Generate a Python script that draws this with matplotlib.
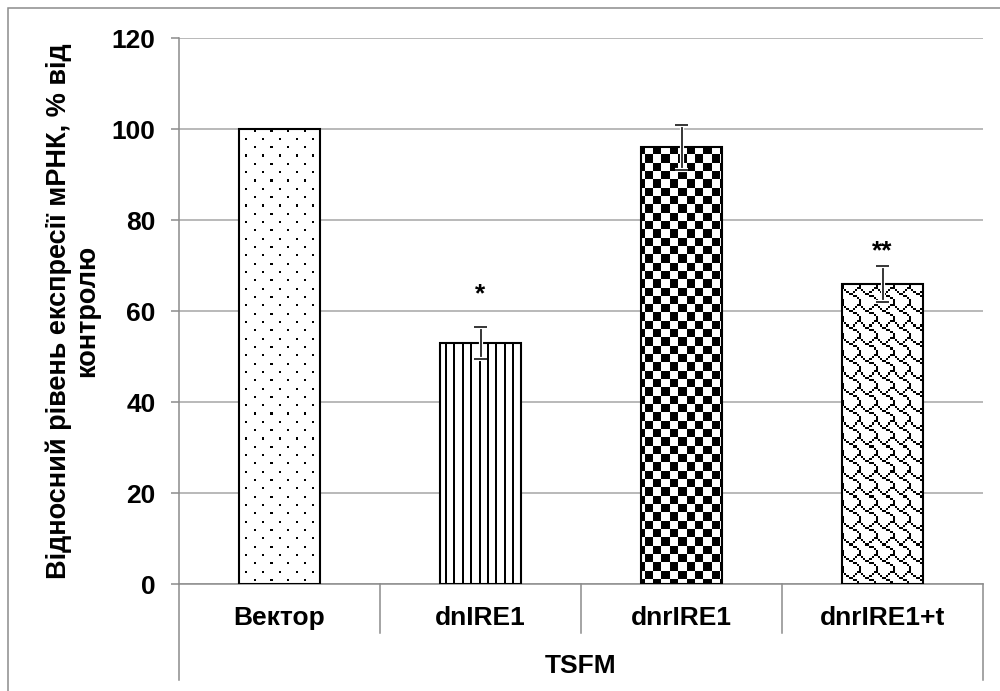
"""Bar chart of relative mRNA expression for TSFM with Excel-style fill patterns."""

import numpy as np
import matplotlib.pyplot as plt
from matplotlib import patheffects
from matplotlib.patches import Rectangle
from matplotlib.transforms import blended_transform_factory

plt.rcParams["font.family"] = ["Liberation Sans", "DejaVu Sans"]
plt.rcParams["font.weight"] = "bold"

GROUPS = ["Вектор", "dnIRE1", "dnrIRE1", "dnrIRE1+t"]
VALUES = [100, 53, 96, 66]
ERRORS = [0, 3.6, 5.0, 4.0]
MARKS = ["", "*", "", "**"]
MARK_Y = [0, 62.1, 0, 71.6]
GENE = "TSFM"
Y_LABEL = "Відносний рівень експресії мРНК, % від\nконтролю"
Y_TICKS = [0, 20, 40, 60, 80, 100, 120]

GRAY = "#8c8c8c"
FONT_SIZE = 19
CELL_PX = 2.08  # size of one pattern cell on screen


def _tile(rows):
    return np.array([[c == "#" for c in r] for r in rows], dtype=float)


# 8x8 fill patterns, one per bar
PATTERNS = [
    _tile(["#.......", "........", "........", "........",
           "....#...", "........", "........", "........"]),
    _tile(["#...#..."] * 8),
    _tile(["####...."] * 4 + ["....####"] * 4),
    _tile(["......##", "#....#..", ".#..#...", "..##....",
           "....##..", "......#.", ".......#", ".......#"]),
]


def _add_texture(ax, bar, tile, ax_w_px, ax_h_px):
    nx = int(np.ceil(ax_w_px / CELL_PX)) + 1
    ny = int(np.ceil(ax_h_px / CELL_PX)) + 1
    tex = np.tile(tile, (ny // 8 + 1, nx // 8 + 1))[:ny, :nx]
    x1 = nx * CELL_PX / ax_w_px
    y0 = 1 - ny * CELL_PX / ax_h_px
    im = ax.imshow(tex, cmap="gray_r", vmin=0, vmax=1, interpolation="nearest",
                   aspect="auto", extent=(0, x1, y0, 1),
                   transform=ax.transAxes, zorder=2.5)
    im.set_clip_path(bar)


fig = plt.figure(figsize=(10, 6.91), dpi=100)
ax_rect = [0.179, 0.1548, 0.804, 0.790]
ax = fig.add_axes(ax_rect)
ax_w_px = ax_rect[2] * 1000
ax_h_px = ax_rect[3] * 691

x = np.arange(len(GROUPS))
bars = ax.bar(x, VALUES, width=0.40, facecolor="none", edgecolor="black",
              linewidth=1.5, zorder=3)
for bar, tile in zip(bars, PATTERNS):
    _add_texture(ax, bar, tile, ax_w_px, ax_h_px)

halo = [patheffects.withStroke(linewidth=3, foreground="white")]
idx = [i for i, e in enumerate(ERRORS) if e > 0]
eb = ax.errorbar(x[idx], [VALUES[i] for i in idx], yerr=[ERRORS[i] for i in idx],
                 fmt="none", ecolor="black", elinewidth=1.1, capsize=4.5,
                 capthick=1.1, zorder=4)
for artist in list(eb.lines[1]) + list(eb.lines[2]):
    artist.set_path_effects(halo)

for i, (mark, my) in enumerate(zip(MARKS, MARK_Y)):
    if mark:
        ax.text(x[i], my, mark, ha="center", va="baseline", fontsize=FONT_SIZE)

ax.set_xlim(-0.5, len(GROUPS) - 0.5)
ax.set_ylim(0, 120)
ax.set_yticks(Y_TICKS)
ax.set_axisbelow(True)
ax.yaxis.grid(True, color="#a6a6a6", linewidth=1.1)
ax.tick_params(axis="y", direction="out", length=6, width=1.1, color=GRAY,
               pad=11, labelsize=FONT_SIZE)
ax.tick_params(axis="x", length=0, labelbottom=False)
for side in ("top", "right"):
    ax.spines[side].set_visible(False)
for side in ("left", "bottom"):
    ax.spines[side].set_color(GRAY)
    ax.spines[side].set_linewidth(1.1)

# two-level category axis below the plot
tr = blended_transform_factory(ax.transData, ax.transAxes)
for i, name in enumerate(GROUPS):
    ax.text(x[i], -0.0751, name, transform=tr, ha="center", va="baseline",
            fontsize=FONT_SIZE)
for b in x[:-1] + 0.5:
    ax.plot([b, b], [0, -0.0897], transform=tr, color=GRAY, lw=1.1,
            clip_on=False)
for b in (x[0] - 0.5, x[-1] + 0.5):
    ax.plot([b, b], [0, -0.176], transform=tr, color=GRAY, lw=1.1,
            clip_on=False)
ax.text(0.5, -0.163, GENE, transform=ax.transAxes, ha="center", va="baseline",
        fontsize=FONT_SIZE)

fig.text(0.0725, ax_rect[1] + ax_rect[3] / 2, Y_LABEL, rotation=90,
         ha="center", va="center", multialignment="center", fontsize=19.5,
         linespacing=1.1)

# chart frame
fig.patches.append(Rectangle((0.008, -0.1), 1.2, 1.0884, transform=fig.transFigure,
                             fill=False, edgecolor=GRAY, linewidth=1.1))

fig.savefig("out.png", dpi=100, facecolor="white")
